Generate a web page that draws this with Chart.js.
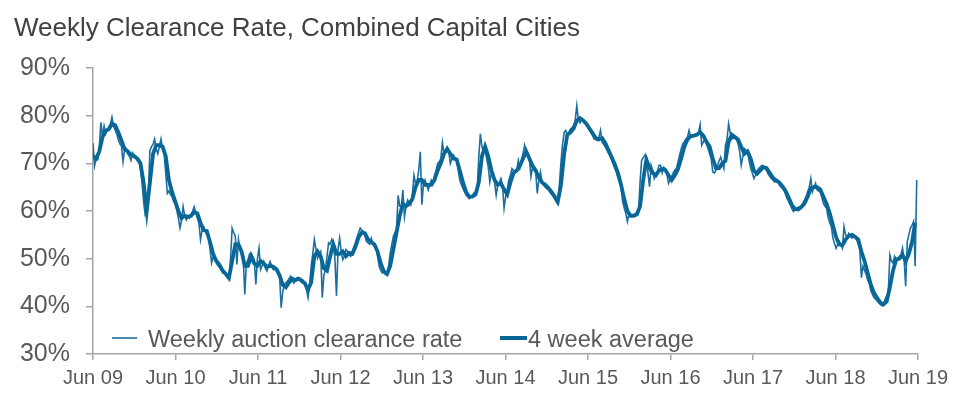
<!DOCTYPE html>
<html>
<head>
<meta charset="utf-8">
<title>Weekly Clearance Rate, Combined Capital Cities</title>
<script src="https://cdn.jsdelivr.net/npm/chart.js@4.4.1/dist/chart.umd.min.js"></script>
<style>
  html, body { margin: 0; padding: 0; background: #ffffff; }
  #wrap { width: 964px; height: 407px; }
</style>
</head>
<body>
<div id="wrap"><canvas id="clearanceChart" width="964" height="407"></canvas></div>
<script>
const WEEKS_PER_YEAR = 52.18;

const xTickLabels = ['Jun 09', 'Jun 10', 'Jun 11', 'Jun 12', 'Jun 13', 'Jun 14',
                     'Jun 15', 'Jun 16', 'Jun 17', 'Jun 18', 'Jun 19'];
const yTicks = [30, 40, 50, 60, 70, 80, 90];

// weekly auction clearance rate (%), one value per week from Jun 09
const weeklyRate = [
  74.2, 69.5, 71.0, 70.8, 73.5, 78.6, 75.5, 77.8, 76.2, 77.0,
  77.5, 78.2, 79.7, 77.8, 77.0, 76.2, 75.0, 74.1, 73.6, 70.3,
  73.0, 73.1, 72.0, 71.5, 70.6, 72.2, 71.7, 71.2, 70.6, 70.9,
  68.9, 66.0, 62.0, 59.2, 59.8, 63.5, 72.7, 73.5, 74.0, 75.1,
  73.0, 72.0, 73.5, 75.1, 73.2, 72.0, 68.0, 63.7, 64.2, 63.5,
  63.0, 62.0, 61.5, 60.2, 58.5, 56.4, 58.0, 60.9, 59.0, 58.1,
  58.8, 58.5, 59.2, 60.0, 60.9, 59.6, 58.5, 57.5, 54.0, 56.0,
  56.7, 55.8, 55.0, 54.7, 52.0, 49.1, 50.5, 49.8, 49.1, 48.5,
  48.2, 47.7, 47.0, 47.2, 46.5, 46.0, 45.6, 50.0, 56.4, 55.5,
  54.7, 48.8, 54.0, 51.9, 51.0, 50.5, 42.5, 49.0, 49.8, 51.0,
  51.2, 50.5, 49.8, 44.6, 50.0, 52.2, 47.7, 48.5, 49.4, 48.0,
  47.4, 48.5, 49.4, 48.5, 47.7, 47.7, 48.0, 47.7, 46.5, 39.7,
  43.0, 44.6, 45.0, 45.3, 45.8, 46.3, 45.5, 44.9, 45.5, 46.0,
  46.0, 45.6, 45.0, 45.3, 44.5, 43.5, 41.8, 44.5, 48.4, 51.0,
  54.0, 52.0, 50.1, 51.0, 51.5, 41.8, 46.5, 47.7, 50.5, 53.3,
  53.0, 54.0, 53.0, 50.0, 42.2, 52.0, 54.3, 51.5, 49.8, 50.5,
  51.9, 51.5, 50.8, 50.5, 51.5, 52.5, 53.3, 54.5, 55.5, 56.4,
  56.0, 55.7, 54.8, 53.6, 53.3, 53.0, 54.3, 53.2, 52.6, 52.6,
  50.5, 48.4, 47.5, 47.0, 47.4, 46.7, 46.7, 48.5, 51.2, 53.0,
  54.7, 55.5, 56.1, 63.3, 61.0, 60.9, 64.4, 58.8, 61.0, 62.3,
  61.8, 61.3, 63.5, 67.5, 65.8, 66.2, 68.5, 72.4, 61.3, 65.5,
  66.5, 65.5, 64.4, 65.5, 66.5, 66.0, 67.5, 68.5, 70.0, 70.3,
  71.0, 74.4, 72.0, 72.8, 73.4, 72.5, 70.0, 71.0, 71.7, 71.2,
  70.6, 68.5, 66.5, 65.5, 64.7, 64.0, 63.3, 63.0, 62.6, 62.9,
  63.3, 63.8, 64.0, 64.4, 71.3, 76.2, 73.5, 72.4, 72.7, 71.0,
  69.2, 66.1, 68.0, 67.5, 66.0, 63.3, 65.4, 66.0, 66.8, 65.5,
  60.6, 63.0, 64.4, 66.5, 67.5, 68.9, 68.5, 68.2, 68.5, 70.6,
  69.0, 70.6, 72.0, 73.8, 72.4, 71.9, 71.0, 67.2, 69.2, 68.5,
  68.2, 63.7, 66.5, 68.2, 66.0, 65.4, 65.0, 64.7, 64.5, 64.0,
  63.5, 63.3, 62.5, 61.9, 61.4, 65.5, 70.3, 74.0, 76.5, 76.9,
  75.8, 76.5, 77.2, 77.5, 77.9, 79.0, 82.1, 79.0, 78.5, 79.3,
  79.0, 78.6, 78.0, 77.6, 77.0, 76.5, 75.8, 75.1, 75.0, 74.8,
  75.5, 76.9, 74.4, 74.0, 73.4, 72.8, 72.2, 71.7, 70.8, 69.9,
  69.0, 68.2, 67.0, 66.0, 65.1, 61.9, 60.6, 59.5, 57.8, 59.5,
  59.2, 59.2, 59.0, 59.5, 59.3, 59.5, 66.0, 70.6, 71.2, 71.7,
  71.3, 68.0, 65.1, 69.6, 68.5, 66.8, 67.5, 68.2, 69.6, 69.6,
  68.0, 69.2, 68.9, 67.8, 65.8, 66.5, 67.2, 68.0, 68.6, 68.9,
  70.3, 71.7, 73.0, 74.1, 74.5, 75.1, 75.5, 76.9, 75.5, 75.6,
  75.8, 76.0, 76.2, 76.5, 78.1, 73.8, 74.5, 75.1, 74.0, 73.1,
  72.0, 71.0, 68.2, 68.0, 68.5, 69.6, 70.5, 71.3, 70.0, 68.9,
  73.8, 75.0, 78.3, 76.5, 75.1, 75.3, 75.5, 75.0, 74.1, 72.5,
  69.6, 71.5, 73.1, 72.8, 72.4, 70.5, 68.9, 68.0, 66.8, 67.5,
  68.3, 68.9, 69.2, 69.6, 69.4, 69.2, 68.5, 67.8, 67.3, 66.8,
  66.5, 66.1, 66.3, 66.5, 65.5, 65.1, 64.8, 64.4, 63.5, 62.6,
  62.0, 61.3, 60.5, 59.9, 60.2, 60.6, 60.8, 60.9, 61.2, 61.6,
  62.3, 63.0, 64.0, 65.0, 66.8, 64.0, 65.0, 65.8, 64.4, 64.2,
  64.0, 62.8, 61.6, 61.0, 60.6, 58.5, 57.5, 56.7, 54.3, 53.2,
  52.2, 53.0, 53.6, 53.0, 52.2, 56.7, 55.0, 54.3, 55.3, 54.8,
  54.3, 54.7, 54.5, 54.0, 53.0, 51.9, 46.0, 48.4, 47.5, 46.7,
  45.5, 44.9, 43.2, 42.5, 41.8, 41.5, 41.1, 40.7, 40.4, 40.1,
  40.5, 41.5, 42.2, 42.9, 50.8, 49.5, 49.1, 50.5, 50.0, 49.8,
  50.5, 50.8, 52.2, 49.8, 44.2, 53.6, 55.0, 56.4, 57.0, 57.8,
  48.4, 66.5
];

// 4 week average (%), read every second week from Jun 09
const AVG_STEP = 2;
const fourWeekAvg = [
  71.5, 71.0, 72.5, 75.5, 76.8, 77.2, 78.3, 78.0, 76.5, 74.8,
  73.0, 72.5, 71.8, 71.5, 71.0, 70.0, 66.0, 60.0, 66.0, 72.0,
  73.8, 73.8, 73.5, 71.5, 66.5, 64.0, 62.0, 60.0, 58.5, 59.0,
  58.8, 59.0, 59.8, 59.5, 57.5, 56.0, 55.8, 53.5, 51.0, 49.5,
  48.7, 47.5, 46.8, 46.0, 49.5, 53.0, 53.0, 51.5, 48.5, 48.5,
  50.5, 49.0, 48.5, 49.5, 49.0, 48.3, 48.5, 48.3, 47.8, 46.5,
  44.5, 44.0, 45.0, 45.8, 45.5, 45.8, 45.4, 44.8, 43.5, 45.0,
  50.5, 51.5, 50.5, 48.0, 47.5, 50.5, 53.0, 51.0, 51.0, 51.5,
  50.5, 51.2, 51.0, 52.5, 54.5, 55.5, 55.3, 54.0, 53.5, 53.0,
  51.5, 49.0, 47.3, 46.8, 48.5, 52.0, 55.5, 59.0, 61.5, 61.0,
  61.5, 62.5, 65.0, 66.5, 66.5, 65.5, 65.5, 65.5, 66.5, 68.5,
  70.0, 72.0, 73.0, 72.0, 71.0, 70.8, 68.5, 66.0, 64.0, 63.0,
  63.0, 63.5, 66.0, 71.5, 73.5, 71.5, 68.5, 66.5, 65.5, 65.8,
  64.5, 63.5, 66.0, 68.0, 68.5, 69.5, 71.0, 72.5, 71.0, 69.5,
  68.5, 67.0, 66.0, 65.5, 64.8, 64.0, 63.0, 62.0, 65.5, 72.0,
  76.0, 76.5, 77.3, 79.0, 79.5, 79.0, 78.3, 77.3, 76.3, 75.3,
  75.0, 75.3, 74.3, 72.8, 71.3, 69.8, 68.0, 65.5, 62.5, 60.0,
  59.0, 59.0, 59.3, 61.0, 66.5, 70.8, 69.0, 68.0, 67.5, 68.5,
  68.8, 68.6, 67.5, 66.5, 67.5, 68.8, 71.0, 73.5, 75.0, 75.7,
  75.8, 76.0, 76.5, 75.8, 74.5, 73.5, 71.0, 69.0, 69.0, 70.0,
  70.5, 74.5, 76.0, 75.5, 75.0, 73.5, 72.0, 72.5, 71.0, 68.5,
  67.8, 68.5, 69.2, 69.0, 68.0, 67.0, 66.4, 66.0, 65.2, 64.2,
  62.8, 61.3, 60.4, 60.3, 60.8, 61.6, 63.0, 64.8, 65.0, 65.0,
  64.5, 63.0, 61.5, 59.5, 57.0, 54.5, 53.0, 52.8, 54.0, 54.8,
  55.0, 54.6, 54.0, 51.5, 49.5, 47.0, 44.5, 42.8, 41.7, 40.8,
  40.4, 41.0, 44.0, 47.5, 49.8, 50.0, 50.8, 49.5, 51.0, 53.5, 57.5
];

const FONT = "'Liberation Sans', Arial, sans-serif";
const LINE_BLUE = '#1a6fa0';
const AVG_BLUE = '#086796';
const TEXT_GREY = '#595959';
const AXIS_GREY = '#a6a6a6';

// title and in-plot legend, drawn on the canvas like the original
const decorPlugin = {
    id: 'decor',
    afterDraw(chart) {
        const ctx = chart.ctx;
        ctx.save();
        ctx.fillStyle = '#404040';
        ctx.font = '26px ' + FONT;
        ctx.textBaseline = 'alphabetic';
        ctx.textAlign = 'left';
        ctx.fillText('Weekly Clearance Rate, Combined Capital Cities', 14, 36);

        const ly = 338;
        ctx.lineCap = 'butt';
        ctx.strokeStyle = LINE_BLUE;
        ctx.lineWidth = 1.6;
        ctx.beginPath();
        ctx.moveTo(112, ly);
        ctx.lineTo(137, ly);
        ctx.stroke();

        ctx.strokeStyle = AVG_BLUE;
        ctx.lineWidth = 4;
        ctx.beginPath();
        ctx.moveTo(500, ly);
        ctx.lineTo(527, ly);
        ctx.stroke();

        ctx.fillStyle = TEXT_GREY;
        ctx.font = '23.5px ' + FONT;
        ctx.fillText('Weekly auction clearance rate', 148, 346.5);
        ctx.fillText('4 week average', 528, 346.5);
        ctx.restore();
    }
};

const ctx = document.getElementById('clearanceChart').getContext('2d');
const clearanceChart = new Chart(ctx, {
    type: 'line',
    data: {
        datasets: [{
            label: 'Weekly auction clearance rate',
            data: weeklyRate.map((v, i) => ({ x: i, y: v })),
            borderColor: LINE_BLUE,
            borderWidth: 1.6,
            pointRadius: 0,
            tension: 0,
            order: 2
        }, {
            label: '4 week average',
            data: fourWeekAvg.map((v, i) => ({ x: i * AVG_STEP, y: v })),
            borderColor: AVG_BLUE,
            borderWidth: 3.8,
            pointRadius: 0,
            tension: 0,
            order: 1
        }]
    },
    options: {
        responsive: false,
        animation: false,
        layout: {
            padding: { top: 68, right: 46, bottom: 0, left: 0 }
        },
        plugins: {
            legend: { display: false },
            title: { display: false },
            tooltip: { enabled: false }
        },
        scales: {
            x: {
                type: 'linear',
                min: 0,
                max: WEEKS_PER_YEAR * (xTickLabels.length - 1),
                afterBuildTicks: function(axis) {
                    axis.ticks = xTickLabels.map((_, k) => ({ value: k * WEEKS_PER_YEAR }));
                },
                afterFit: function(axis) {
                    axis.height = 53;
                },
                border: { display: true, color: AXIS_GREY, width: 1.5 },
                grid: {
                    drawOnChartArea: false,
                    drawTicks: true,
                    tickLength: 6,
                    color: AXIS_GREY,
                    lineWidth: 1.5
                },
                ticks: {
                    autoSkip: false,
                    maxRotation: 0,
                    padding: 6,
                    color: TEXT_GREY,
                    font: { family: FONT, size: 20 },
                    callback: function(value, index) {
                        return xTickLabels[index];
                    }
                }
            },
            y: {
                min: yTicks[0],
                max: yTicks[yTicks.length - 1],
                afterBuildTicks: function(axis) {
                    axis.ticks = yTicks.map(v => ({ value: v }));
                },
                afterFit: function(axis) {
                    axis.width = 93;
                },
                border: { display: true, color: AXIS_GREY, width: 1.5 },
                grid: {
                    drawOnChartArea: false,
                    drawTicks: true,
                    tickLength: 7,
                    color: AXIS_GREY,
                    lineWidth: 1.5
                },
                ticks: {
                    padding: 16,
                    color: TEXT_GREY,
                    font: { family: FONT, size: 25 },
                    callback: function(value) {
                        return value + '%';
                    }
                }
            }
        }
    },
    plugins: [decorPlugin]
});
</script>
</body>
</html>
